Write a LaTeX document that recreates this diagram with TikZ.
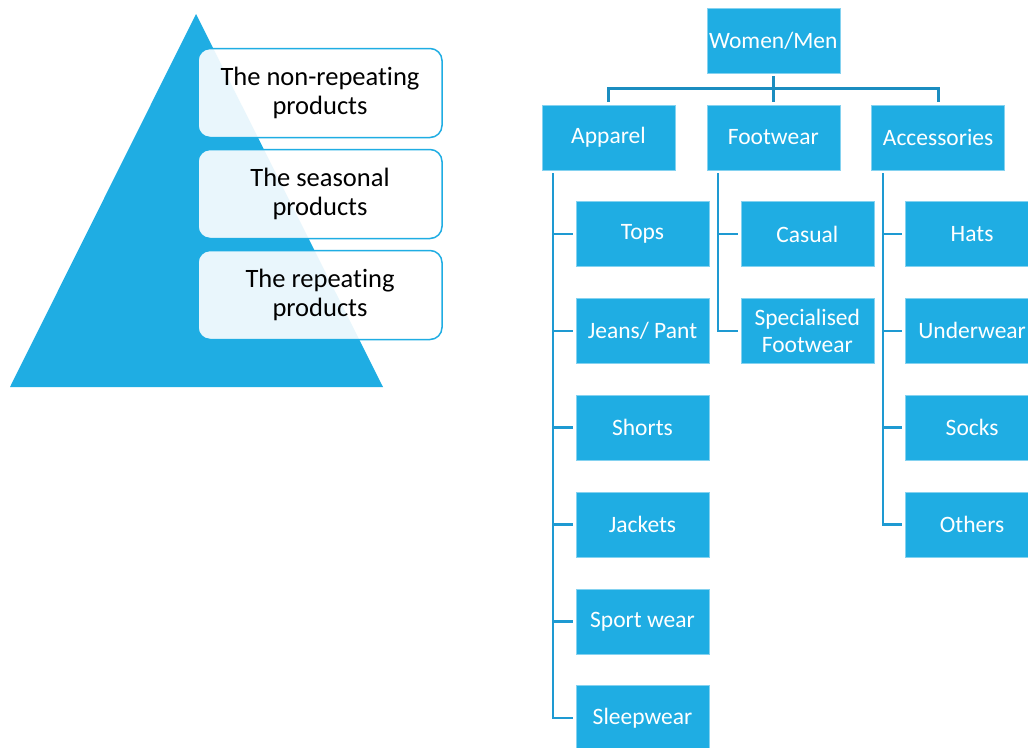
\documentclass[tikz,border=0pt]{standalone}
\usepackage{fontspec}
\setmainfont{Carlito}[Ligatures={NoCommon,NoContextual,NoRequired}]
\usetikzlibrary{positioning,calc}
\definecolor{sky}{HTML}{1FADE3}
\definecolor{skyline}{HTML}{1B8DC0}
\definecolor{skyrule}{HTML}{1E9AD2}

\begin{document}
\begin{tikzpicture}[x=1pt,y=-1pt,node distance=31.2pt]
  \tikzstyle{tier}=[draw=sky,line width=1.5pt,fill=white,fill opacity=0.9,text opacity=1,rounded corners=12pt,minimum width=244pt,minimum height=89pt,align=center,font=\fontsize{26.5}{29}\selectfont]
  \tikzstyle{cat}=[draw=sky!55!white,line width=0.6pt,fill=sky,text=white,minimum width=133pt,minimum height=65pt,inner sep=1pt,align=center,font=\fontsize{23.5}{27.5}\selectfont]
  \tikzstyle{link}=[skyrule,line width=2.5pt]
  \useasboundingbox[fill=white] (0,0) rectangle (1028,747);
  \fill[sky] (196,14) -- (383,387) -- (10,387) -- cycle;
  \node[tier] (nonrep) at (320,93) {The non-repeating\\products};
  \node[tier,below=10.5pt of nonrep] (season) {The seasonal\\products};
  \node[tier,below=10.5pt of season] (repeat) {The repeating\\products};

  \node[cat] (root) at (773.3,40.5) {Women/Men};
  \node[cat,below=of root] (foot) {Footwear};
  \node[cat,left=of foot] (app) {Apparel};
  \node[cat,right=of foot] (acc) {Accessories};
  \node[cat,below=of app,xshift=34pt] (tops) {Tops};
  \node[cat,below=of tops] (jeans) {Jeans/ Pant};
  \node[cat,below=of jeans] (shorts) {Shorts};
  \node[cat,below=of shorts] (jackets) {Jackets};
  \node[cat,below=of jackets] (sport) {Sport wear};
  \node[cat,below=of sport] (sleep) {Sleepwear};
  \node[cat,below=of foot,xshift=34pt] (casual) {Casual};
  \node[cat,below=of casual] (special) {Specialised\\Footwear};
  \node[cat,below=of acc,xshift=34pt] (hats) {Hats};
  \node[cat,below=of hats] (under) {Underwear};
  \node[cat,below=of under] (socks) {Socks};
  \node[cat,below=of socks] (others) {Others};

  \coordinate (bus) at ($(root.south)!0.5!(foot.north)$);
  \draw[link,skyline,line width=3pt,shorten <=3pt,shorten >=3pt] (root) -- (foot);
  \draw[link,skyline,line width=3pt,shorten <=3pt,shorten >=3pt] (app.north) |- (bus) -| (acc.north);

  \coordinate (appbar) at ([xshift=11.5pt]app.south west);
  \coordinate (footbar) at ([xshift=11.5pt]foot.south west);
  \coordinate (accbar) at ([xshift=11.5pt]acc.south west);
  \draw[link,shorten <=3pt,shorten >=3pt] (appbar) |- (sleep.west);
  \draw[link,shorten <=3pt,shorten >=3pt] (footbar) |- (special.west);
  \draw[link,shorten <=3pt,shorten >=3pt] (accbar) |- (others.west);
  \foreach \n in {tops,jeans,shorts,jackets,sport}
    \draw[link,shorten >=3pt] (appbar |- \n.west) -- (\n.west);
  \draw[link,shorten >=3pt] (footbar |- casual.west) -- (casual.west);
  \foreach \n in {hats,under,socks}
    \draw[link,shorten >=3pt] (accbar |- \n.west) -- (\n.west);
\end{tikzpicture}
\end{document}
